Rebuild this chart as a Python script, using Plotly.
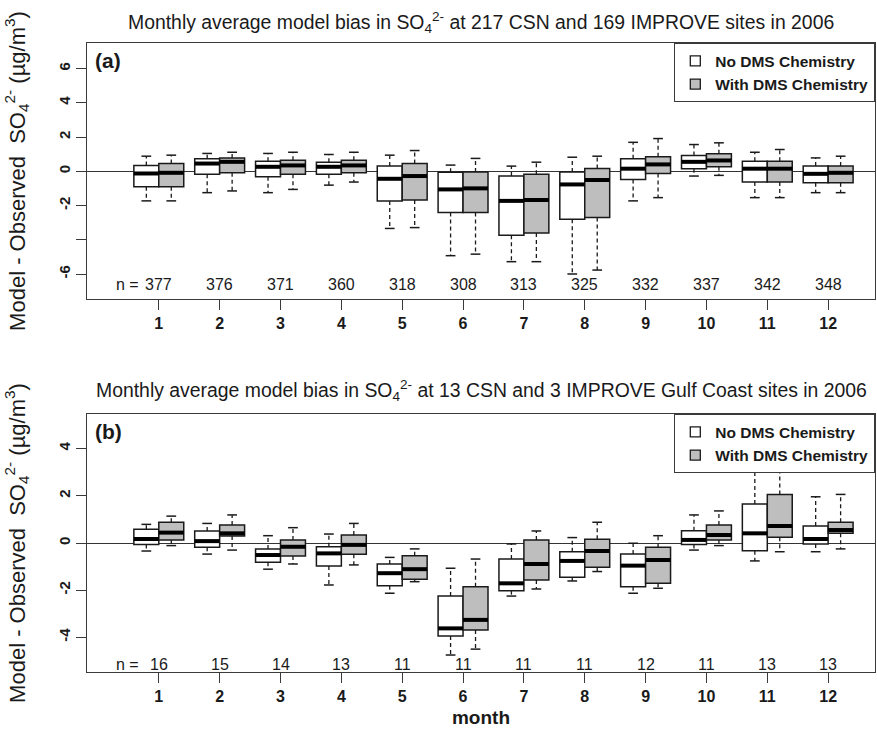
import plotly.graph_objects as go

months = list(range(1, 13))
month_labels = [str(m) for m in months]

# ---------------- Panel (a): 217 CSN + 169 IMPROVE sites ----------------
a_no_hi = [0.89, 1.05, 1.05, 0.99, 0.95, 0.37, 0.31, 0.83, 1.70, 1.57, 1.12, 0.79]
a_no_q3 = [0.35, 0.74, 0.60, 0.54, 0.31, -0.05, -0.27, -0.04, 0.74, 0.93, 0.60, 0.31]
a_no_med = [-0.12, 0.46, 0.27, 0.27, -0.43, -1.05, -1.72, -0.76, 0.16, 0.56, 0.16, -0.14]
a_no_q1 = [-0.89, -0.17, -0.31, -0.17, -1.72, -2.40, -3.72, -2.79, -0.47, 0.16, -0.62, -0.66]
a_no_lo = [-1.72, -1.24, -1.24, -0.80, -3.33, -4.92, -5.27, -5.99, -1.72, -0.27, -1.53, -1.24]

a_dms_hi = [0.95, 1.12, 1.12, 1.12, 1.22, 0.76, 0.54, 0.89, 1.92, 1.67, 1.28, 0.89]
a_dms_q3 = [0.46, 0.79, 0.66, 0.66, 0.46, -0.04, -0.17, 0.17, 0.85, 1.03, 0.60, 0.31]
a_dms_med = [-0.08, 0.56, 0.35, 0.35, -0.27, -0.99, -1.67, -0.50, 0.41, 0.64, 0.16, -0.08]
a_dms_q1 = [-0.89, -0.08, -0.17, -0.08, -1.67, -2.40, -3.60, -2.69, -0.12, 0.27, -0.62, -0.66]
a_dms_lo = [-1.72, -1.14, -1.05, -0.62, -3.28, -4.83, -5.27, -5.76, -1.53, -0.23, -1.53, -1.24]

a_n = [377, 376, 371, 360, 318, 308, 313, 325, 332, 337, 342, 348]
a_ytickvals = [-6, -4, -2, 0, 2, 4, 6]
a_yticktext = ["-6", "", "-2", "0", "2", "4", "6"]

# ---------------- Panel (b): 13 CSN + 3 IMPROVE Gulf Coast sites ----------------
b_no_hi = [0.79, 0.83, 0.31, 0.38, -0.61, -1.07, -0.04, 0.23, -0.01, 1.19, 3.60, 1.96]
b_no_q3 = [0.58, 0.51, -0.25, -0.16, -0.89, -2.25, -0.68, -0.37, -0.47, 0.52, 1.65, 0.72]
b_no_med = [0.17, 0.08, -0.51, -0.44, -1.28, -3.62, -1.71, -0.76, -0.96, 0.13, 0.41, 0.17]
b_no_q1 = [-0.06, -0.18, -0.82, -0.97, -1.81, -3.94, -2.02, -1.45, -1.85, -0.06, -0.33, -0.04]
b_no_lo = [-0.34, -0.47, -1.11, -1.78, -2.13, -4.75, -2.25, -1.61, -2.13, -0.30, -0.76, -0.37]

b_dms_hi = [1.14, 1.19, 0.65, 0.83, -0.25, -0.68, 0.51, 0.88, 0.31, 1.36, 3.90, 2.06]
b_dms_q3 = [0.88, 0.76, 0.13, 0.34, -0.54, -1.85, 0.13, 0.16, -0.18, 0.76, 2.06, 0.88]
b_dms_med = [0.44, 0.41, -0.16, -0.08, -1.11, -3.26, -0.89, -0.34, -0.72, 0.34, 0.72, 0.55]
b_dms_q1 = [0.13, 0.30, -0.55, -0.48, -1.54, -3.69, -1.57, -1.03, -1.71, 0.13, 0.24, 0.41]
b_dms_lo = [-0.11, -0.30, -0.89, -0.93, -1.64, -4.50, -1.95, -1.21, -1.92, -0.11, -0.37, -0.25]

b_n = [16, 15, 14, 13, 11, 11, 11, 11, 12, 11, 13, 13]
b_ytickvals = [-4, -2, 0, 2, 4]
b_yticktext = ["-4", "-2", "0", "2", "4"]

series_names = ["No DMS Chemistry", "With DMS Chemistry"]
title_a = "Monthly average model bias in SO<sub>4</sub><sup>2-</sup> at 217 CSN and 169 IMPROVE sites in 2006"
title_b = "Monthly average model bias in SO<sub>4</sub><sup>2-</sup> at 13 CSN and 3 IMPROVE Gulf Coast sites in 2006"
ytitle = "Model - Observed  SO<sub>4</sub><sup>2-</sup> (\u00b5g/m<sup>3</sup>)"

# ---------------- styling ----------------
FONT = "Liberation Sans, Arial, sans-serif"
INK = "#1a1a1a"
AXC = "#3a3a3a"
FILLS = ["white", "#bebebe"]
OFF = 0.205   # half distance between paired boxes (month units)
BW = 0.41     # box width (month units)
CAP = 0.08    # half width of whisker staples

fig = go.Figure()


def add_panel(xa, ya, legend_id, stats):
    for k, (hi, q3, med, q1, lo) in enumerate(stats):
        sign = -1 if k == 0 else 1
        xs = [m + sign * OFF for m in months]
        # dashed whiskers
        wx, wy = [], []
        for x, h, u, d, l in zip(xs, hi, q3, q1, lo):
            wx += [x, x, None, x, x, None]
            wy += [u, h, None, d, l, None]
        fig.add_trace(go.Scatter(x=wx, y=wy, mode="lines", xaxis=xa, yaxis=ya,
                                 line=dict(color=INK, width=1.3, dash="4px,3px"),
                                 showlegend=False, hoverinfo="skip"))
        # staples
        cx, cy = [], []
        for x, h, l in zip(xs, hi, lo):
            cx += [x - CAP, x + CAP, None, x - CAP, x + CAP, None]
            cy += [h, h, None, l, l, None]
        fig.add_trace(go.Scatter(x=cx, y=cy, mode="lines", xaxis=xa, yaxis=ya,
                                 line=dict(color=INK, width=1.5),
                                 showlegend=False, hoverinfo="skip"))
        # boxes
        fig.add_trace(go.Box(x=xs, q1=q1, median=med, q3=q3, lowerfence=q1, upperfence=q3,
                             width=BW, fillcolor=FILLS[k], whiskerwidth=0,
                             line=dict(color=INK, width=1.5), xaxis=xa, yaxis=ya,
                             showlegend=False, hoverinfo="skip"))
        # thick medians
        mx, my = [], []
        for x, m in zip(xs, med):
            mx += [x - BW / 2, x + BW / 2, None]
            my += [m, m, None]
        fig.add_trace(go.Scatter(x=mx, y=my, mode="lines", xaxis=xa, yaxis=ya,
                                 line=dict(color="black", width=4),
                                 showlegend=False, hoverinfo="skip"))
        # legend entry
        fig.add_trace(go.Scatter(x=[None], y=[None], mode="markers", xaxis=xa, yaxis=ya,
                                 name=series_names[k], legend=legend_id,
                                 marker=dict(symbol="square", size=10, color=FILLS[k],
                                             line=dict(color=INK, width=1.3))))


add_panel("x", "y", "legend",
          [(a_no_hi, a_no_q3, a_no_med, a_no_q1, a_no_lo),
           (a_dms_hi, a_dms_q3, a_dms_med, a_dms_q1, a_dms_lo)])
add_panel("x2", "y2", "legend2",
          [(b_no_hi, b_no_q3, b_no_med, b_no_q1, b_no_lo),
           (b_dms_hi, b_dms_q3, b_dms_med, b_dms_q1, b_dms_lo)])

W, H = 877, 738
xdom = [87 / W, 875 / W]
ydom_a = [1 - 299 / H, 1 - 43 / H]
ydom_b = [1 - 672 / H, 1 - 414 / H]
xrange_ = [-0.18, 12.77]

common_x = dict(domain=xdom, range=xrange_, tickmode="array", tickvals=months, ticktext=month_labels,
                ticks="outside", ticklen=10, tickwidth=1.3, tickcolor=AXC,
                showline=True, mirror=True, linecolor=AXC, linewidth=1.3,
                showgrid=False, zeroline=False,
                tickfont=dict(family=FONT, size=16, color=INK, weight="bold"))
common_y = dict(tickmode="array", tickangle=-90, ticks="outside", ticklen=10, tickwidth=1.3,
                tickcolor=AXC, showline=True, mirror=True, linecolor=AXC, linewidth=1.3,
                showgrid=False, zeroline=True, zerolinecolor="#333333", zerolinewidth=1.2,
                tickfont=dict(family=FONT, size=15, color=INK, weight="bold"),
                title=dict(text=ytitle, standoff=24, font=dict(family=FONT, size=22, color=INK)))

legend_common = dict(xanchor="right", yanchor="top", x=875 / W, bgcolor="white",
                     bordercolor=AXC, borderwidth=1.3, traceorder="normal",
                     font=dict(family=FONT, size=15.5, color=INK, weight="bold"))

fig.update_layout(
    width=W, height=H, autosize=False,
    margin=dict(l=0, r=0, t=0, b=0),
    paper_bgcolor="white", plot_bgcolor="white",
    font=dict(family=FONT, color=INK),
    xaxis=dict(anchor="y", **common_x),
    yaxis=dict(anchor="x", domain=ydom_a, range=[-7.45, 7.5], tickvals=a_ytickvals,
               ticktext=a_yticktext, **common_y),
    xaxis2=dict(anchor="y2", title=dict(text="<b>month</b>", standoff=6,
                                        font=dict(family=FONT, size=19, color=INK)),
                **common_x),
    yaxis2=dict(anchor="x2", domain=ydom_b, range=[-5.47, 5.47], tickvals=b_ytickvals,
                ticktext=b_yticktext, **common_y),
    legend=dict(y=1 - 43 / H, **legend_common),
    legend2=dict(y=1 - 414 / H, **legend_common),
    showlegend=True,
)

annotations = []
# titles
annotations.append(dict(text=title_a, xref="paper", yref="paper", x=481 / W, y=1 - 22 / H,
                        xanchor="center", yanchor="middle", showarrow=False,
                        font=dict(family=FONT, size=19.4, color=INK)))
annotations.append(dict(text=title_b, xref="paper", yref="paper", x=481 / W, y=1 - 390 / H,
                        xanchor="center", yanchor="middle", showarrow=False,
                        font=dict(family=FONT, size=19.4, color=INK)))
# panel tags
for tag, xr, yr in [("(a)", "x domain", "y domain"), ("(b)", "x2 domain", "y2 domain")]:
    annotations.append(dict(text="<b>" + tag + "</b>", xref=xr, yref=yr, x=0.008, y=0.985,
                            xanchor="left", yanchor="top", showarrow=False,
                            font=dict(family=FONT, size=21, color=INK)))
# n labels
for xr, yr, ns, ylab in [("x", "y", a_n, -6.62), ("x2", "y2", b_n, -5.17)]:
    for m, n in zip(months, ns):
        annotations.append(dict(text=str(n), xref=xr, yref=yr, x=m, y=ylab,
                                xanchor="center", yanchor="middle", showarrow=False,
                                font=dict(family=FONT, size=16, color=INK)))
    annotations.append(dict(text="n =", xref=xr, yref=yr, x=months[0], y=ylab, xshift=-18,
                            xanchor="right", yanchor="middle", showarrow=False,
                            font=dict(family=FONT, size=16, color=INK)))
fig.update_layout(annotations=annotations)

fig.write_html("out.html", config={"displayModeBar": False},
               post_script="document.body.style.margin='0px';")
